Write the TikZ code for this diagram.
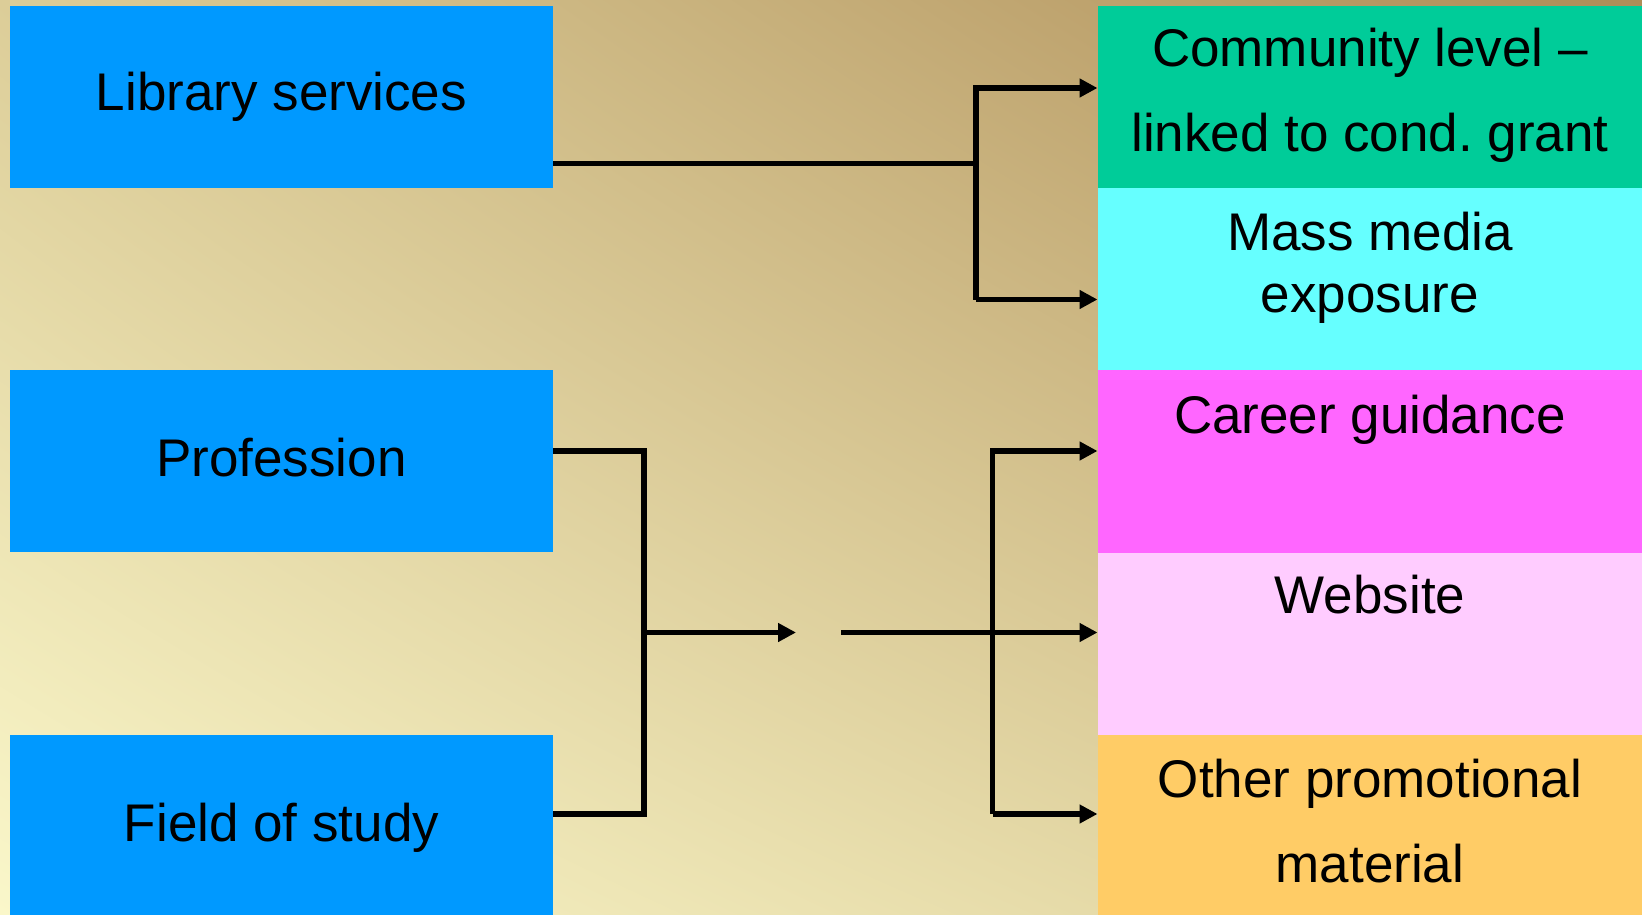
\documentclass[tikz,border=0pt]{standalone}
\usepackage{fontspec}
\setmainfont{Liberation Sans}
\usetikzlibrary{arrows.meta,shadings}
\definecolor{bgLL}{RGB}{250,247,202}
\definecolor{bgUR}{RGB}{174,141,88}
\definecolor{bgMid}{RGB}{220,205,152}
\definecolor{boxblue}{RGB}{0,153,255}
\definecolor{boxgreen}{RGB}{0,204,153}
\definecolor{boxcyan}{RGB}{102,255,255}
\definecolor{boxmagenta}{RGB}{255,102,255}
\definecolor{boxpink}{RGB}{255,204,255}
\definecolor{boxorange}{RGB}{255,204,102}
\tikzset{
  srcbox/.style={rectangle, fill=boxblue, draw=none, inner sep=0pt, minimum width=543pt, minimum height=182pt},
  dstbox/.style={rectangle, draw=none, inner sep=0pt, minimum width=546pt, minimum height=182.5pt},
  lbl/.style={anchor=base, inner sep=0pt, font=\fontsize{53}{60}\selectfont, text=black},
  conn/.style={draw=black, line width=5.3pt, line join=miter},
  arr/.style={conn, -{Triangle[length=18pt,width=18pt]}}
}
\begin{document}
\frenchspacing
\begin{tikzpicture}[x=1pt,y=-1pt]
\useasboundingbox (0,0) rectangle (1642,915);
\shade[lower left=bgLL, upper right=bgUR, upper left=bgMid, lower right=bgMid] (0,0) rectangle (1642,915);
% source boxes
\node[srcbox] (lib) at (281.5,97) {};
\node[srcbox] (prof) at (281.5,461) {};
\node[srcbox] (field) at (281.5,826) {};
% destination boxes
\node[dstbox, fill=boxgreen] (comm) at (1370.5,97.25) {};
\node[dstbox, fill=boxcyan] (mass) at (1370.5,279.5) {};
\node[dstbox, fill=boxmagenta] (career) at (1370.5,461.5) {};
\node[dstbox, fill=boxpink] (web) at (1370.5,643.75) {};
\node[dstbox, fill=boxorange] (other) at (1370.5,826) {};
% labels
\node[lbl] (tlib) at (281.5,111) {Library services};
\node[lbl] (tprof) at (281.5,476) {Profession};
\node[lbl] (tfield) at (281.5,841) {Field of study};
\node[lbl] (tcomma) at (1370,67) {Community level –};
\node[lbl] (tcommb) at (1370,152) {linked to cond.\ grant};
\node[lbl] (tmassa) at (1370,250) {Mass media};
\node[lbl] (tmassb) at (1370,312) {exposure};
\node[lbl] (tcareer) at (1370,433) {Career guidance};
\node[lbl] (tweb) at (1370,613) {Website};
\node[lbl] (tothera) at (1370,797) {Other promotional};
\node[lbl] (totherb) at (1370,882) {material};
% junction coordinates
\coordinate (j1) at (976,163.5);
\coordinate (a1) at (1097.5,88);
\coordinate (a2) at (1097.5,299.5);
\coordinate (j2) at (644,632.5);
\coordinate (mid1) at (796,632.5);
\coordinate (mid2) at (841,632.5);
\coordinate (j3) at (992.5,632.5);
\coordinate (a3) at (1097.5,451);
\coordinate (a4) at (1097.5,632.5);
\coordinate (a5) at (1097.5,814);
% library connectors
\draw[conn] (lib.east |- j1) -- (j1);
\draw[arr] (j1 |- a2) -- (j1 |- a1) -- (a1);
\draw[arr] (j1 |- a2) -- (a2);
% profession / field connectors
\draw[conn] (prof.east |- a3) -- (j2 |- a3) -- (j2 |- a5) -- (field.east |- a5);
\draw[arr] (j2) -- (mid1);
\draw[arr] (mid2) -- (a4);
\draw[arr] (j3 |- a5) -- (j3 |- a3) -- (a3);
\draw[arr] (j3 |- a5) -- (a5);
\end{tikzpicture}
\end{document}
